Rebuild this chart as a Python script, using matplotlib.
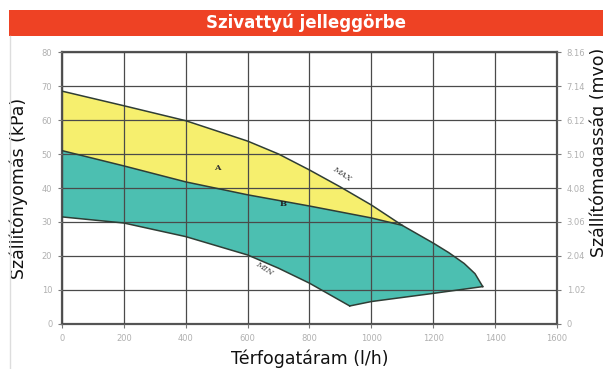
import numpy as np
import matplotlib.pyplot as plt
from matplotlib.patches import Rectangle, Polygon
from matplotlib.lines import Line2D

# MAX jelleggörbe
flow_max = [0, 200, 400, 600, 700, 800, 900, 1000, 1100, 1200, 1250, 1300, 1335, 1360]
p_max = [68.5, 64.2, 59.8, 53.8, 50.0, 45.3, 40.3, 35.0, 29.0, 23.8, 21.0, 17.8, 14.8, 11.0]
# A és B tartomány határa
flow_mid = [0, 200, 400, 600, 800, 1000, 1100]
p_mid = [51.0, 46.5, 41.8, 38.0, 34.7, 31.2, 29.0]
# MIN jelleggörbe
flow_min = [0, 200, 400, 600, 700, 800, 930]
p_min = [31.5, 29.7, 25.7, 20.3, 16.4, 12.0, 5.3]
# alsó határ a MIN végétől a MAX végéig
flow_low = [930, 1000, 1200, 1360]
p_low = [5.3, 6.6, 9.0, 11.0]

x_ticks = [0, 200, 400, 600, 800, 1000, 1200, 1400, 1600]
y_ticks = [0, 10, 20, 30, 40, 50, 60, 70, 80]
h_labels = ['0', '1.02', '2.04', '3.06', '4.08', '5.10', '6.12', '7.14', '8.16']

yellow = '#f6ef6e'
teal = '#4cbfb1'
edge = '#2f3d35'

fig = plt.figure(figsize=(6.03, 3.69), dpi=100)
ax = fig.add_axes([0.1028, 0.122, 0.8209, 0.737])

k = flow_max.index(1100)
# A tartomány
poly_a = list(zip(flow_max[:k + 1], p_max[:k + 1])) + list(zip(flow_mid[::-1], p_mid[::-1]))
ax.add_patch(Polygon(poly_a, closed=True, facecolor=yellow, edgecolor='none', zorder=1))
# B tartomány
poly_b = (list(zip(flow_mid, p_mid)) + list(zip(flow_max[k:], p_max[k:]))
          + list(zip(flow_low[::-1], p_low[::-1])) + list(zip(flow_min[::-1], p_min[::-1])))
ax.add_patch(Polygon(poly_b, closed=True, facecolor=teal, edgecolor='none', zorder=1))

ax.plot(flow_max, p_max, color=edge, lw=1.1, zorder=3)
ax.plot(flow_mid, p_mid, color=edge, lw=1.1, zorder=3)
ax.plot(flow_min, p_min, color=edge, lw=1.1, zorder=3)
ax.plot(flow_low, p_low, color=edge, lw=1.1, zorder=3)

ax.set_xlim(0, 1600)
ax.set_ylim(0, 80)
ax.set_xticks(x_ticks)
ax.set_yticks(y_ticks)
ax.grid(True, color='#4a4a4a', lw=0.9, zorder=2)
ax.set_axisbelow(False)
for s in ax.spines.values():
    s.set_color('#555555')
    s.set_linewidth(1.6)
ax.tick_params(labelsize=6, colors='#b0b0b0', length=3, width=0.8, pad=4)
ax.tick_params(axis='both', color='#777777')

ax.text(501, 45.9, 'A', fontsize=6, fontweight='bold', color='#333333',
        family='serif', ha='center', va='center', zorder=4)
ax.text(714, 35.3, 'B', fontsize=6, fontweight='bold', color='#222222',
        family='serif', ha='center', va='center', zorder=4)
ax.text(905, 44.2, 'MAX', fontsize=6, color='#444444', family='serif', style='italic',
        rotation=-33, ha='center', va='center', zorder=4)
ax.text(655, 16.3, 'MIN', fontsize=6, color='#444444', family='serif', style='italic',
        rotation=-33, ha='center', va='center', zorder=4)

ax2 = ax.twinx()
ax2.set_ylim(0, 8.16)
ax2.set_yticks([1.02 * i for i in range(9)])
ax2.set_yticklabels(h_labels)
ax2.tick_params(labelsize=6, colors='#b0b0b0', length=3, width=0.8, pad=4)
ax2.tick_params(axis='y', color='#777777')
for s in ax2.spines.values():
    s.set_visible(False)

ax.set_xlabel('Térfogatáram (l/h)', fontsize=12.5, color='#111111', labelpad=5)
ax.set_ylabel('Szállítónyomás (kPa)', fontsize=12.5, color='#111111', labelpad=10)
fig.text(589 / 603, 1 - 152 / 369, 'Szállítómagasság (mvo)', fontsize=12.5, color='#111111',
         rotation=90, ha='left', va='center')

# fejléc sáv
fig.patches.append(Rectangle((9 / 603, 1 - 36 / 369), 1 - 9 / 603, 26 / 369,
                             transform=fig.transFigure, facecolor='#ee4224',
                             edgecolor='none', zorder=0))
fig.text(0.508, 1 - 23 / 369, 'Szivattyú jelleggörbe', fontsize=12, fontweight='bold',
         color='white', ha='center', va='center')
fig.lines.append(Line2D([9.5 / 603, 9.5 / 603], [0, 1 - 36 / 369], transform=fig.transFigure,
                        color='#dddddd', lw=1))

fig.savefig('out.png', dpi=100)
